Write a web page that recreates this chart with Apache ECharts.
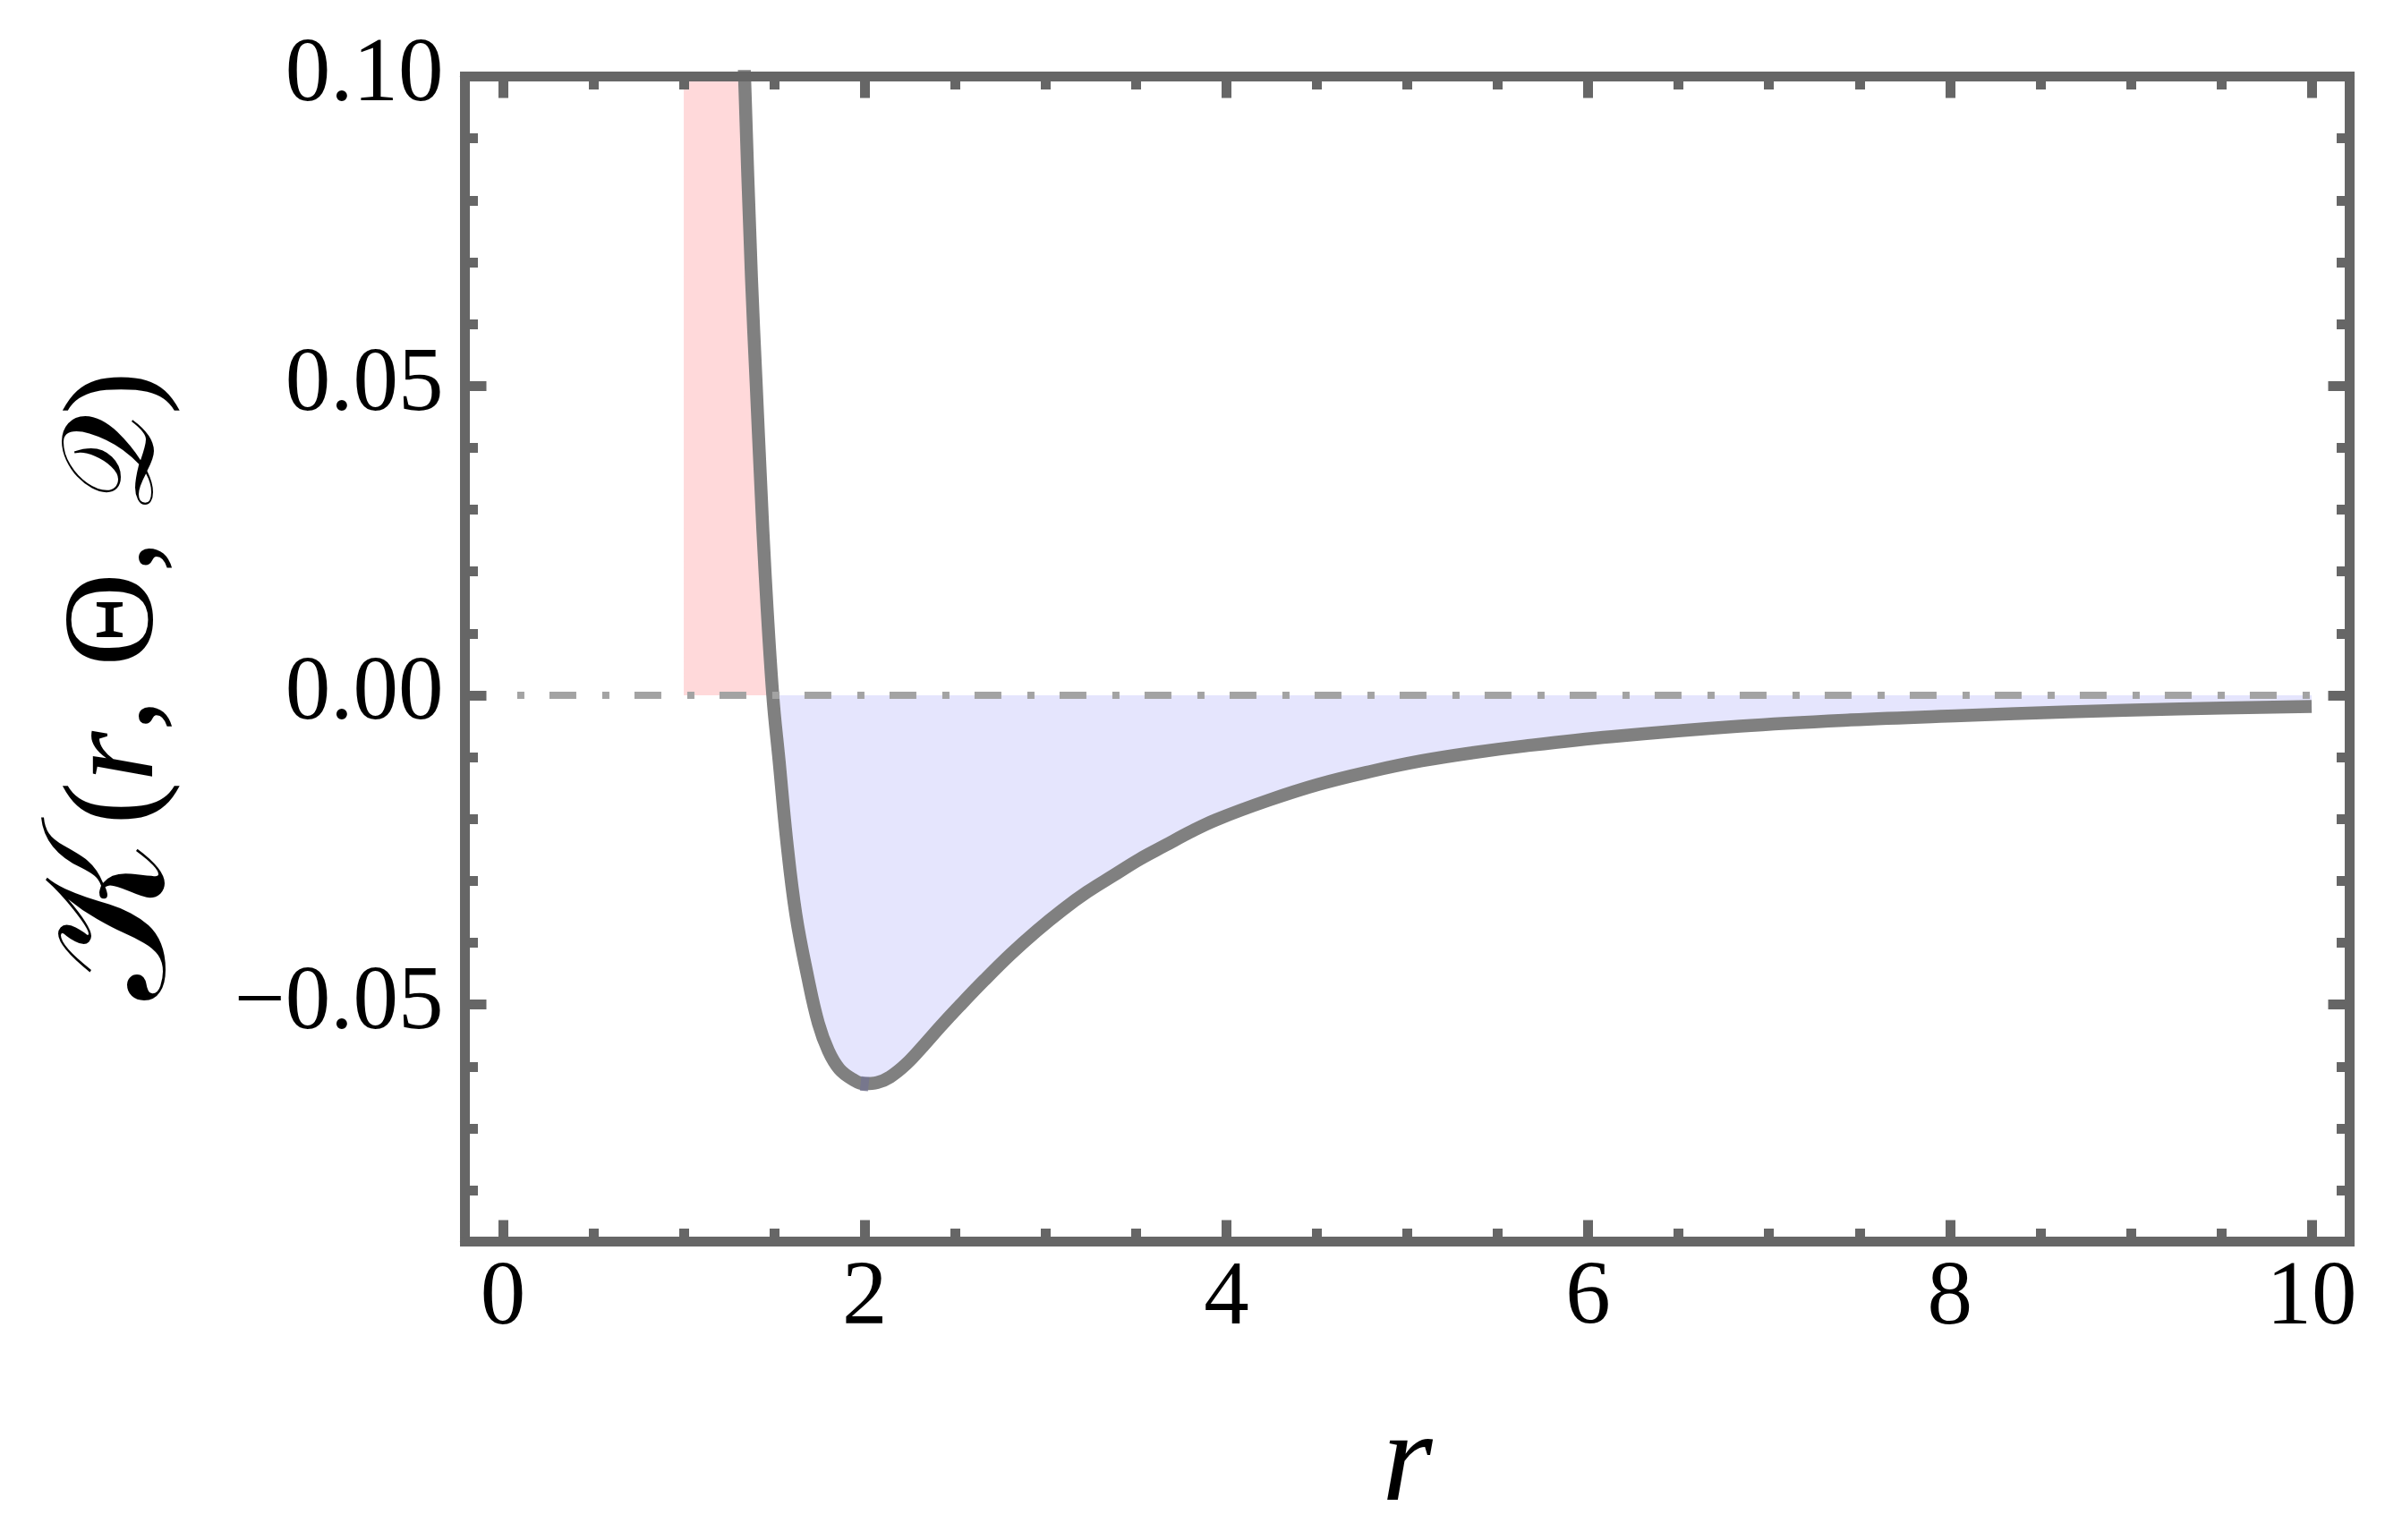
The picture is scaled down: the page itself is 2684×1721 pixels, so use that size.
<!DOCTYPE html>
<html>
<head>
<meta charset="utf-8">
<script src="https://cdn.jsdelivr.net/npm/echarts@6/dist/echarts.min.js"></script>
<style>
html,body{margin:0;padding:0;background:#ffffff;}
#chart{width:2684px;height:1721px;}
</style>
</head>
<body>
<div id="chart"></div>
<script>
// values
const rVals = [1.300, 1.336, 1.374, 1.400, 1.425, 1.450, 1.492, 1.527, 1.569, 1.620, 1.687, 1.744, 1.800, 1.860, 1.930, 2.000, 2.070, 2.140, 2.230, 2.326, 2.420, 2.525, 2.660, 2.809, 2.950, 3.093, 3.230, 3.377, 3.520, 3.660, 3.800, 3.945, 4.230, 4.510, 4.800, 5.080, 5.360, 5.650, 6.130, 6.840, 7.450, 8.060, 8.660, 9.270, 10.00];
const kVals = [0.135, 0.1000, 0.0676, 0.0505, 0.0344, 0.0195, 0.0000, -0.0106, -0.0235, -0.0355, -0.0458, -0.0530, -0.0575, -0.0604, -0.0620, -0.0628, -0.0626, -0.0617, -0.0596, -0.0566, -0.0535, -0.0502, -0.0461, -0.0418, -0.0381, -0.0347, -0.0318, -0.0291, -0.0265, -0.0243, -0.0221, -0.0201, -0.0170, -0.0144, -0.0123, -0.0106, -0.0093, -0.0082, -0.0067, -0.0050, -0.0040, -0.0033, -0.0027, -0.0022, -0.0018];
const redStartR = 1.0;
const zeroCrossR = 1.492;
const minPoint = [2.0, -0.0628];
const zeroLine = [[0, 0], [10, 0]];
const xMajorTicks = [0, 2, 4, 6, 8, 10];
const xMinorTicks = [0.5, 1, 1.5, 2.5, 3, 3.5, 4.5, 5, 5.5, 6.5, 7, 7.5, 8.5, 9, 9.5];
const yMajorTicks = [-0.05, 0, 0.05, 0.1];
const yMinorTicks = [-0.08, -0.07, -0.06, -0.04, -0.03, -0.02, -0.01, 0.01, 0.02, 0.03, 0.04, 0.06, 0.07, 0.08, 0.09];

const curve = rVals.map((r, i) => [r, kVals[i]]);
const redData = [[redStartR, kVals[0]]].concat(curve.filter(p => p[0] <= zeroCrossR));
const blueData = curve.filter(p => p[0] >= zeroCrossR);

const FRAME = '#666666';
const SERIF = "'Liberation Serif', 'Times New Roman', 'DejaVu Serif', serif";
const labelStyle = {color: '#000000', fontFamily: SERIF, fontSize: 101};

function xAx(pos, ticks, len, showLabel) {
  return {
    type: 'value', position: pos, min: -0.21, max: 10.21, z: 10,
    axisLine: {show: true, onZero: false, lineStyle: {color: FRAME, width: 11}},
    axisTick: {show: true, inside: true, length: len, customValues: ticks, lineStyle: {color: FRAME, width: 11}},
    axisLabel: showLabel ? Object.assign({show: true, customValues: ticks, margin: 14, formatter: v => String(v)}, labelStyle) : {show: false},
    splitLine: {show: false},
    name: (showLabel ? 'r' : ''),
    nameLocation: 'middle', nameGap: 178,
    nameTextStyle: {fontFamily: SERIF, fontSize: 145, fontStyle: 'italic', color: '#000'}
  };
}
function yAx(pos, ticks, len, showLabel) {
  return {
    type: 'value', position: pos, min: -0.0883, max: 0.1, z: 10,
    axisLine: {show: true, onZero: false, lineStyle: {color: FRAME, width: 11}},
    axisTick: {show: true, inside: true, length: len, customValues: ticks, lineStyle: {color: FRAME, width: 11}},
    axisLabel: showLabel ? Object.assign({show: true, customValues: ticks, margin: 24,
      formatter: v => (v < 0 ? '\u2212' : '') + Math.abs(v).toFixed(2)}, labelStyle) : {show: false},
    splitLine: {show: false},
    name: (showLabel ? '{k|\uD835\uDCA6}{n|(}{i|r}{n|, \u0398, }{q|\uD835\uDCAC}{n|)}{sp| }' : ''),
    nameLocation: 'middle', nameGap: 315, nameRotate: 90,
    nameTextStyle: {fontFamily: SERIF, fontSize: 145, color: '#000',
      rich: {
        k: {fontFamily: SERIF, fontSize: 196, lineHeight: 145, color: '#000', padding: [0, 14, 0, 0]},
        q: {fontFamily: SERIF, fontSize: 145, color: '#000'},
        n: {fontFamily: SERIF, fontSize: 145, color: '#000'},
        i: {fontFamily: SERIF, fontSize: 145, fontStyle: 'italic', color: '#000'},
        sp: {fontFamily: SERIF, fontSize: 145, width: 60, color: 'rgba(0,0,0,0)'}
      }}
  };
}

const chart = echarts.init(document.getElementById('chart'), null, {renderer: 'canvas'});
chart.setOption({
  backgroundColor: '#ffffff',
  animation: false,
  grid: {left: 519.5, right: 58.5, top: 85.5, bottom: 333.5, containLabel: false, outerBoundsMode: 'none',
         show: true, borderColor: FRAME, borderWidth: 11, backgroundColor: 'transparent'},
  xAxis: [xAx('bottom', xMajorTicks, 24, true), xAx('bottom', xMinorTicks, 14.5, false),
          xAx('top', xMajorTicks, 24, false), xAx('top', xMinorTicks, 14.5, false)],
  yAxis: [yAx('left', yMajorTicks, 24, true), yAx('left', yMinorTicks, 14.5, false),
          yAx('right', yMajorTicks, 24, false), yAx('right', yMinorTicks, 14.5, false)],
  series: [
    {type: 'line', data: redData, smooth: 0.4, symbol: 'none', z: 1,
     lineStyle: {width: 0, opacity: 0}, areaStyle: {color: '#FFD9DA', opacity: 1, origin: 0}},
    {type: 'line', data: blueData, smooth: 0.4, symbol: 'none', z: 1,
     lineStyle: {width: 0, opacity: 0}, areaStyle: {color: '#E5E5FD', opacity: 1, origin: 0}},
    {type: 'line', data: curve, smooth: 0.4, symbol: 'none', z: 2,
     lineStyle: {color: '#808080', width: 14.5}},
    {type: 'line', data: zeroLine, symbol: 'none', z: 3,
     lineStyle: {color: '#A3A3A3', width: 8, type: [30, 29, 8, 28], dashOffset: 43}},
    {type: 'scatter', data: [minPoint], symbol: 'rect', symbolSize: [9, 16], symbolRotate: -6, z: 4,
     itemStyle: {color: '#747490'}}
  ]
});
</script>
</body>
</html>
